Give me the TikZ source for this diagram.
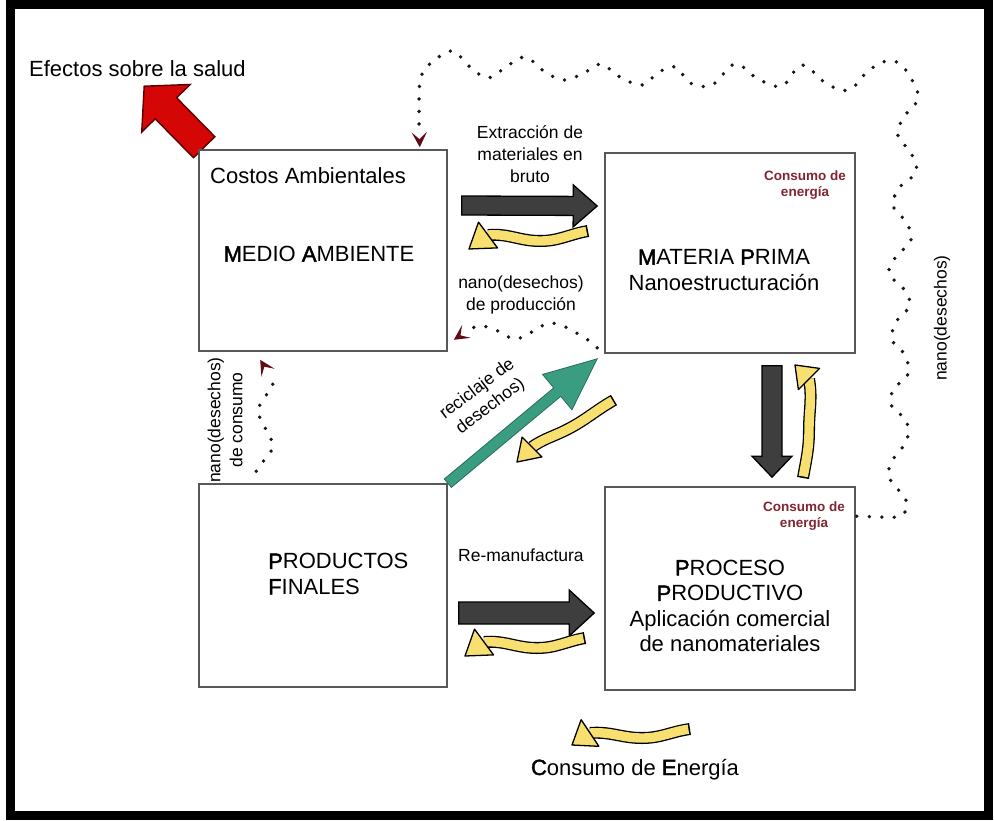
\documentclass[tikz,border=0pt]{standalone}
\usepackage{fontspec}
\setmainfont{Liberation Sans}
\newfontfamily\leadfont{Liberation Sans}[FakeBold=2]
\newcommand{\lead}[1]{{\leadfont #1}}
\usetikzlibrary{calc}

\definecolor{yellowc}{RGB}{248,224,112}
\definecolor{barc}{RGB}{62,62,62}
\definecolor{tealc}{RGB}{58,156,128}
\definecolor{redc}{RGB}{212,6,6}
\definecolor{maroonc}{RGB}{128,38,48}
\definecolor{dotc}{RGB}{28,20,20}
\definecolor{headc}{RGB}{96,12,18}
\definecolor{boxc}{RGB}{88,88,88}

% straight block arrow: from, to, shaft half-width, head length, head half-width, style
\newcommand{\blockarrow}[6]{%
  \coordinate (ba-h) at ($(#2)!#4!(#1)$);
  \draw[#6] ($(#1)!#3!90:(#2)$) -- ($(ba-h)!#3!90:(#2)$) -- ($(ba-h)!#5!90:(#2)$) -- (#2)
    -- ($(ba-h)!#5!-90:(#2)$) -- ($(ba-h)!#3!-90:(#2)$) -- ($(#1)!#3!-90:(#2)$) -- cycle;}

% hand-drawn yellow arrow: shaft path, head base, tip, head half-width
\newcommand{\sketcharrow}[4]{%
  \draw[ycase] #1;
  \draw[yband] #1;
  \filldraw[yhead] (#3) -- ($(#2)!#4!90:(#3)$) -- ($(#2)!#4!-90:(#3)$) -- cycle;}

% head of a dotted connector: from, tip
\newcommand{\dothead}[2]{%
  \fill[headc] (#2) -- ($(#2)!17pt!-27:(#1)$) -- ($(#2)!8pt!(#1)$) -- ($(#2)!17pt!27:(#1)$) -- cycle;}

\begin{document}
\begin{tikzpicture}[x=1pt,y=-1pt,
  box/.style={draw=boxc, line width=1.6pt, fill=white, inner sep=0pt},
  big/.style={font=\fontsize{22}{25.5}\selectfont, inner sep=0pt},
  lab/.style={font=\fontsize{17.5}{22}\selectfont, inner sep=0pt, align=center},
  small/.style={font=\bfseries\fontsize{13.5}{16.5}\selectfont, text=maroonc, inner sep=0pt, align=center},
  dots/.style={draw=dotc, line width=3.8pt, line cap=round, dash pattern=on 0pt off 12.5pt},
  ycase/.style={draw=black, line width=12pt},
  yband/.style={draw=yellowc, line width=9.4pt, shorten <=1.6pt},
  yhead/.style={fill=yellowc, draw=black, line width=1.3pt, line join=round},
  darkarrow/.style={fill=barc, draw=black, line width=1.3pt},
  greenarrow/.style={fill=tealc, draw=tealc!70!black, line width=0.8pt},
  redarrow/.style={fill=redc, draw=red!35!black, line width=1.4pt}]

\useasboundingbox (0,0) rectangle (994,820);
\draw[line width=9pt] (10,4.5) rectangle (988.5,815.5);

% boxes (placed first so connectors can refer to them)
\path
  (323,250.5) node[box, minimum width=248pt, minimum height=201pt] (medio) {}
  (730,253)   node[box, minimum width=250pt, minimum height=200pt] (materia) {}
  (323,585.5) node[box, minimum width=248pt, minimum height=203pt] (productos) {}
  (730,588.5) node[box, minimum width=250pt, minimum height=203pt] (proceso) {};

% health effects arrow, tucked under the corner of the environment box
\coordinate (r-s) at ($(medio.north west)+(6,-2)$);
\coordinate (r-e) at ($(medio.north west)+(-54,-63)$);
\blockarrow{r-s}{r-e}{15pt}{31pt}{34pt}{redarrow}
\node[box, minimum width=248pt, minimum height=201pt] at (medio.center) {};

% dotted nano-waste connectors
\coordinate (loopS) at ($(proceso.north east)+(1,30)$);
\coordinate (loopM) at (419,126);
\coordinate (loopE) at ($(medio.north east)+(-28,-2)$);
\draw[dots] (loopS) -- plot[smooth, tension=0.6] coordinates {
  (880,517) (901,516) (907,503) (897,488) (888,475) (894,458) (907,440) (906,420)
  (892,407) (893,390) (908,374) (905,355) (892,340) (896,322) (910,305) (903,288)
  (889,274) (895,258) (911,240) (906,222) (893,206) (899,188) (916,172) (911,153)
  (898,136) (903,118) (918,99) (912,80) (900,64) (886,61) (868,71) (849,90)
  (827,84) (802,65) (782,86) (758,79) (735,64) (712,85) (690,83) (676,67)
  (659,72) (642,85) (620,77) (601,64) (584,73) (564,80) (545,72) (525,57)
  (506,67) (488,78) (470,67) (453,51) (436,59) (423,72) (419,90)} -- (loopM);
\dothead{loopM}{loopE}

\coordinate (pS) at ($(materia.south west)+(-7,-6)$);
\coordinate (pM) at (470,329);
\coordinate (pE) at ($(medio.south east)+(6,-12)$);
\draw[dots] (pS) -- plot[smooth, tension=0.6] coordinates {
  (588,340) (575,332) (563,326) (550,323) (538,328) (525,336) (513,339)
  (502,333) (488,327) (477,326)} -- (pM);
\dothead{pM}{pE}

\coordinate (cS) at ($(productos.north west)+(58,-12)$);
\coordinate (cM) at (270,376);
\coordinate (cE) at ($(medio.south west)+(62,8)$);
\draw[dots] (cS) -- plot[smooth, tension=0.6] coordinates {
  (265,459) (273,447) (269,435) (262,422) (258,410) (265,397) (273,385)} -- (cM);
\dothead{cM}{cE}

% main flow arrows
\coordinate (a1s) at ($(medio.east)+(14,-45)$);
\coordinate (a1e) at ($(materia.west)+(-7,-47)$);
\blockarrow{a1s}{a1e}{9.5pt}{24pt}{21pt}{darkarrow}
\coordinate (a2s) at ($(productos.east)+(11,27.5)$);
\coordinate (a2e) at ($(proceso.west)+(-10,24.5)$);
\blockarrow{a2s}{a2e}{11pt}{25pt}{23pt}{darkarrow}
\coordinate (a3s) at ($(materia.south)+(42,12)$);
\coordinate (a3e) at ($(proceso.north)+(42,-9)$);
\blockarrow{a3s}{a3e}{10pt}{21pt}{20pt}{darkarrow}
\coordinate (g-e) at ($(materia.south west)+(-7,5)$);
\blockarrow{productos.north east}{g-e}{5.5pt}{52pt}{23pt}{greenarrow}

% energy consumption arrows
\coordinate (y1t) at (588,231); \coordinate (y1m) at (540,241);
\coordinate (y1b) at (488,235); \coordinate (y1p) at (469,249);
\sketcharrow{(y1t) to[out=190,in=0] (y1m) to[out=180,in=5] (y1b)}{y1b}{y1p}{16pt}

\coordinate (y2t) at (585,638); \coordinate (y2m) at (537,648);
\coordinate (y2b) at (484,642); \coordinate (y2p) at (465,656);
\sketcharrow{(y2t) to[out=190,in=0] (y2m) to[out=180,in=5] (y2b)}{y2b}{y2p}{16pt}

\coordinate (y3t) at (803,478); \coordinate (y3m) at (809,430);
\coordinate (y3b) at (809,379); \coordinate (y3p) at (795,365);
\sketcharrow{(y3t) to[out=80,in=270] (y3m) to[out=90,in=-80] (y3b)}{y3b}{y3p}{15pt}

\coordinate (y4t) at (614,400); \coordinate (y4m) at (562,432);
\coordinate (y4b) at (532,447); \coordinate (y4p) at (517,462);
\sketcharrow{(y4t) to[out=210,in=25] (y4m) to[out=205,in=35] (y4b)}{y4b}{y4p}{14pt}

\coordinate (y5t) at (690,729); \coordinate (y5m) at (642,738);
\coordinate (y5b) at (590,733); \coordinate (y5p) at (572,745);
\sketcharrow{(y5t) to[out=188,in=0] (y5m) to[out=180,in=5] (y5b)}{y5b}{y5p}{16pt}

% texts
\node[big, anchor=base west] (efectos) at (29,76) {Efectos sobre la salud};
\node[big, anchor=base west] (costos) at (210,183) {Costos Ambientales};
\node[big] (medioT) at (319,254) {\lead{M}EDIO \lead{A}MBIENTE};
\node[big, align=center] (materiaT) at (724,270) {\lead{M}ATERIA \lead{P}RIMA\\Nanoestructuración};
\node[small] (energiaA) at (805,185) {Consumo de\\energía};
\node[big, align=left, anchor=west] (productosT) at (268,574) {\lead{P}RODUCTOS\\\lead{F}INALES};
\node[big, align=center] (procesoT) at (730,606) {\lead{P}ROCESO\\\lead{P}RODUCTIVO\\Aplicación comercial\\de nanomateriales};
\node[small] (energiaB) at (804,516) {Consumo de\\energía};
\node[lab] (extraccion) at (530,154) {Extracción de\\materiales en\\bruto};
\node[lab] (nanoprod) at (521,295) {nano(desechos)\\de producción};
\node[lab, anchor=base west] (reman) at (458,561) {Re-manufactura};
\node[lab, rotate=90] (nanoright) at (942,318) {nano(desechos)};
\node[lab, rotate=90] (nanocons) at (225,420) {nano(desechos)\\de consumo};
\node[lab, rotate=37] (reciclaje) at (484,398) {reciclaje de\\desechos)};
\node[big, anchor=base] (consumoE) at (635,775) {\lead{C}onsumo de \lead{E}nergía};
\end{tikzpicture}
\end{document}
